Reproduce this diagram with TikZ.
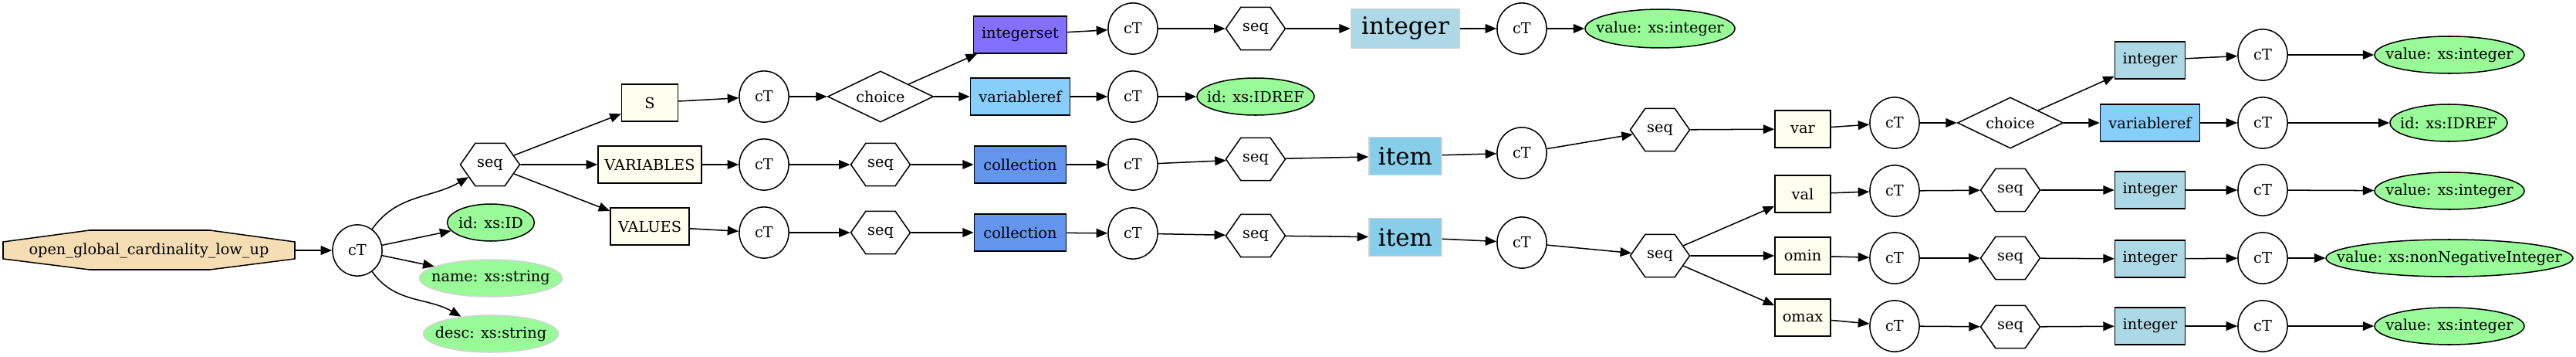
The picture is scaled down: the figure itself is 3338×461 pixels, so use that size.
\documentclass[tikz,border=0pt]{standalone}
\usepackage{fontspec}
\setmainfont{DejaVu Serif}
\usetikzlibrary{shapes.geometric,shapes.symbols,arrows.meta}
\definecolor{wheat}{HTML}{F5DEB3}
\definecolor{palegreen}{HTML}{98FB98}
\definecolor{ivory}{HTML}{FFFFF0}
\definecolor{slateblue}{HTML}{8470FF}
\definecolor{lskyblue}{HTML}{87CEFA}
\definecolor{cornblue}{HTML}{6495ED}
\definecolor{skyblue}{HTML}{87CEEB}
\definecolor{lblue}{HTML}{ADD8E6}
\definecolor{lgray}{HTML}{D3D3D3}
\newcommand{\attrtext}[1]{\makebox[0pt]{#1}}
\tikzset{
  every node/.style={font=\fontsize{14}{17}\selectfont, inner sep=0pt, line width=1.1pt},
  link/.style={line width=1.1pt, -{Triangle[length=10.5pt,width=8.5pt]}},
  ctnode/.style={draw, ellipse, minimum width=46.5pt, minimum height=48pt},
  seqnode/.style={draw, signal, signal to=west and east, signal pointer angle=110,
                  minimum width=55.8pt, minimum height=39.9pt},
  choicenode/.style={draw, diamond, aspect=2.08, minimum width=99.3pt, minimum height=47.9pt},
  attr/.style={draw, ellipse, fill=palegreen, minimum height=34.8pt},
  elem/.style={draw, rectangle, fill=ivory, minimum height=34.8pt},
  typebox/.style={draw, rectangle, minimum height=34.8pt},
  bigtype/.style={draw=lgray, rectangle, fill=#1, font=\fontsize{22.5}{26}\selectfont}
}
\begin{document}
\begin{tikzpicture}[x=0.725pt, y=-0.725pt]
  \useasboundingbox (0,0) rectangle (3338,461);
  \draw [fill=wheat, line width=1.1pt] (4,313) -- (116,298) -- (272,298) -- (382,313)
        -- (382,335) -- (272,349) -- (116,349) -- (4,335) -- cycle;              %root
  \node [minimum width=274pt, minimum height=37pt] (root) at (193,324) {open\_global\_cardinality\_low\_up};
  \node [ctnode]  (ct0)  at (463,324) {cT};
  \node [seqnode] (seq0) at (635,213) {seq};
  \node [attr, minimum width=81.9pt]                (attrid)   at (636,288) {\attrtext{id: xs:ID}};
  \node [attr, draw=lgray, minimum width=134.1pt]   (attrname) at (636,360) {\attrtext{name: xs:string}};
  \node [attr, draw=lgray, minimum width=126.9pt]   (attrdesc) at (636,432) {\attrtext{desc: xs:string}};
  % S, VARIABLES, VALUES
  \node [elem, minimum width=52.9pt] (elS)    at (842,133) {S};
  \node [elem, minimum width=97.2pt] (elVars) at (842,213) {VARIABLES};
  \node [elem, minimum width=74pt]   (elVals) at (842,293) {VALUES};
  \node [ctnode]     (ctS)     at (990,125) {cT};
  \node [ctnode]     (ctVars)  at (990,213) {cT};
  \node [ctnode]     (ctVals)  at (990,301) {cT};
  \node [choicenode] (chS)     at (1141,125) {choice};
  \node [seqnode]    (seqVars) at (1141,213) {seq};
  \node [seqnode]    (seqVals) at (1141,301) {seq};
  \node [typebox, fill=slateblue, minimum width=87.7pt] (iset)  at (1322,45)  {integerset};
  \node [typebox, fill=lskyblue,  minimum width=93.5pt] (vref)  at (1322,125) {variableref};
  \node [typebox, fill=cornblue,  minimum width=86.3pt] (coll1) at (1322,213) {collection};
  \node [typebox, fill=cornblue,  minimum width=86.3pt] (coll2) at (1322,301) {collection};
  \node [ctnode]  (ctIset)   at (1468,37)  {cT};
  \node [ctnode]  (ctVref)   at (1468,125) {cT};
  \node [ctnode]  (ctColl1)  at (1468,213) {cT};
  \node [ctnode]  (ctColl2)  at (1468,302) {cT};
  \node [seqnode] (seqIset)  at (1627,37)  {seq};
  \node [attr, minimum width=110.2pt] (refVref) at (1627,125) {\attrtext{id: xs:IDREF}};
  \node [seqnode] (seqColl1) at (1627,206) {seq};
  \node [seqnode] (seqColl2) at (1627,305) {seq};
  \node [bigtype=lblue,   minimum width=102.2pt, minimum height=37pt]   (intIset) at (1821,37)  {integer};
  \node [bigtype=skyblue, minimum width=68.2pt,  minimum height=35.5pt] (item1)   at (1821,202) {item};
  \node [bigtype=skyblue, minimum width=68.2pt,  minimum height=35.5pt] (item2)   at (1821,307) {item};
  \node [ctnode]  (ctInt)    at (1972,37)  {cT};
  \node [ctnode]  (ctItem1)  at (1972,198) {cT};
  \node [ctnode]  (ctItem2)  at (1972,314) {cT};
  \node [attr, minimum width=140.7pt, minimum height=36.2pt] (valIset) at (2151,37) {\attrtext{value: xs:integer}};
  \node [seqnode] (seqItem1) at (2151,168) {seq};
  \node [seqnode] (seqItem2) at (2151,331) {seq};
  % var, val, omin, omax
  \node [elem, minimum width=52.2pt] (elVar)  at (2336,167) {var};
  \node [elem, minimum width=52.2pt] (elVal)  at (2336,251) {val};
  \node [elem, minimum width=52.2pt] (elOmin) at (2336,331) {omin};
  \node [elem, minimum width=52.2pt] (elOmax) at (2336,411) {omax};
  \node [ctnode]     (ctVar)   at (2455,159) {cT};
  \node [ctnode]     (ctVal)   at (2455,247) {cT};
  \node [ctnode]     (ctOmin)  at (2455,334) {cT};
  \node [ctnode]     (ctOmax)  at (2455,422) {cT};
  \node [choicenode] (chVar)   at (2605,159) {choice};
  \node [seqnode]    (seqVal)  at (2605,246) {seq};
  \node [seqnode]    (seqOmin) at (2605,334) {seq};
  \node [seqnode]    (seqOmax) at (2605,423) {seq};
  \node [typebox, fill=lblue,    minimum width=66pt]   (intVar)  at (2786,78)  {integer};
  \node [typebox, fill=lskyblue, minimum width=93.5pt] (vrefVar) at (2786,159) {variableref};
  \node [typebox, fill=lblue,    minimum width=66pt]   (intVal)  at (2786,246) {integer};
  \node [typebox, fill=lblue,    minimum width=66pt]   (intOmin) at (2786,335) {integer};
  \node [typebox, fill=lblue,    minimum width=66pt]   (intOmax) at (2786,422) {integer};
  \node [ctnode] (ctIntVar)  at (2932,71)  {cT};
  \node [ctnode] (ctVrefVar) at (2932,159) {cT};
  \node [ctnode] (ctIntVal)  at (2932,246) {cT};
  \node [ctnode] (ctIntOmin) at (2932,334) {cT};
  \node [ctnode] (ctIntOmax) at (2932,422) {cT};
  \node [attr, minimum width=140.7pt] (valVar)  at (3174,71)  {\attrtext{value: xs:integer}};
  \node [attr, minimum width=110.2pt] (refVar)  at (3173,159) {\attrtext{id: xs:IDREF}};
  \node [attr, minimum width=140.7pt] (valVal)  at (3174,247) {\attrtext{value: xs:integer}};
  \node [attr, minimum width=232pt]   (valOmin) at (3174,334) {\attrtext{value: xs:nonNegativeInteger}};
  \node [attr, minimum width=140.7pt] (valOmax) at (3174,422) {\attrtext{value: xs:integer}};
  % links
  \draw [link] (root) -- (ct0);
  \draw [link] (ct0) to[out=55,in=-150] (seq0);
  \draw [link] (ct0) -- (attrid);
  \draw [link] (ct0) -- (attrname);
  \draw [link] (ct0) to[out=-55,in=150] (attrdesc);
  \draw [link] (seq0) -- (elS);
  \draw [link] (seq0) -- (elVars);
  \draw [link] (seq0) -- (elVals);
  \draw [link] (elS) -- (ctS);
  \draw [link] (ctS) -- (chS);
  \draw [link] (chS) -- (iset);
  \draw [link] (chS) -- (vref);
  \draw [link] (iset) -- (ctIset);
  \draw [link] (ctIset) -- (seqIset);
  \draw [link] (seqIset) -- (intIset);
  \draw [link] (intIset) -- (ctInt);
  \draw [link] (ctInt) -- (valIset);
  \draw [link] (vref) -- (ctVref);
  \draw [link] (ctVref) -- (refVref);
  \draw [link] (elVars) -- (ctVars);
  \draw [link] (ctVars) -- (seqVars);
  \draw [link] (seqVars) -- (coll1);
  \draw [link] (coll1) -- (ctColl1);
  \draw [link] (ctColl1) -- (seqColl1);
  \draw [link] (seqColl1) -- (item1);
  \draw [link] (item1) -- (ctItem1);
  \draw [link] (ctItem1) -- (seqItem1);
  \draw [link] (seqItem1) -- (elVar);
  \draw [link] (elVar) -- (ctVar);
  \draw [link] (ctVar) -- (chVar);
  \draw [link] (chVar) -- (intVar);
  \draw [link] (chVar) -- (vrefVar);
  \draw [link] (intVar) -- (ctIntVar);
  \draw [link] (ctIntVar) -- (valVar);
  \draw [link] (vrefVar) -- (ctVrefVar);
  \draw [link] (ctVrefVar) -- (refVar);
  \draw [link] (elVals) -- (ctVals);
  \draw [link] (ctVals) -- (seqVals);
  \draw [link] (seqVals) -- (coll2);
  \draw [link] (coll2) -- (ctColl2);
  \draw [link] (ctColl2) -- (seqColl2);
  \draw [link] (seqColl2) -- (item2);
  \draw [link] (item2) -- (ctItem2);
  \draw [link] (ctItem2) -- (seqItem2);
  \draw [link] (seqItem2) -- (elVal);
  \draw [link] (seqItem2) -- (elOmin);
  \draw [link] (seqItem2) -- (elOmax);
  \draw [link] (elVal) -- (ctVal);
  \draw [link] (ctVal) -- (seqVal);
  \draw [link] (seqVal) -- (intVal);
  \draw [link] (intVal) -- (ctIntVal);
  \draw [link] (ctIntVal) -- (valVal);
  \draw [link] (elOmin) -- (ctOmin);
  \draw [link] (ctOmin) -- (seqOmin);
  \draw [link] (seqOmin) -- (intOmin);
  \draw [link] (intOmin) -- (ctIntOmin);
  \draw [link] (ctIntOmin) -- (valOmin);
  \draw [link] (elOmax) -- (ctOmax);
  \draw [link] (ctOmax) -- (seqOmax);
  \draw [link] (seqOmax) -- (intOmax);
  \draw [link] (intOmax) -- (ctIntOmax);
  \draw [link] (ctIntOmax) -- (valOmax);
\end{tikzpicture}
\end{document}
